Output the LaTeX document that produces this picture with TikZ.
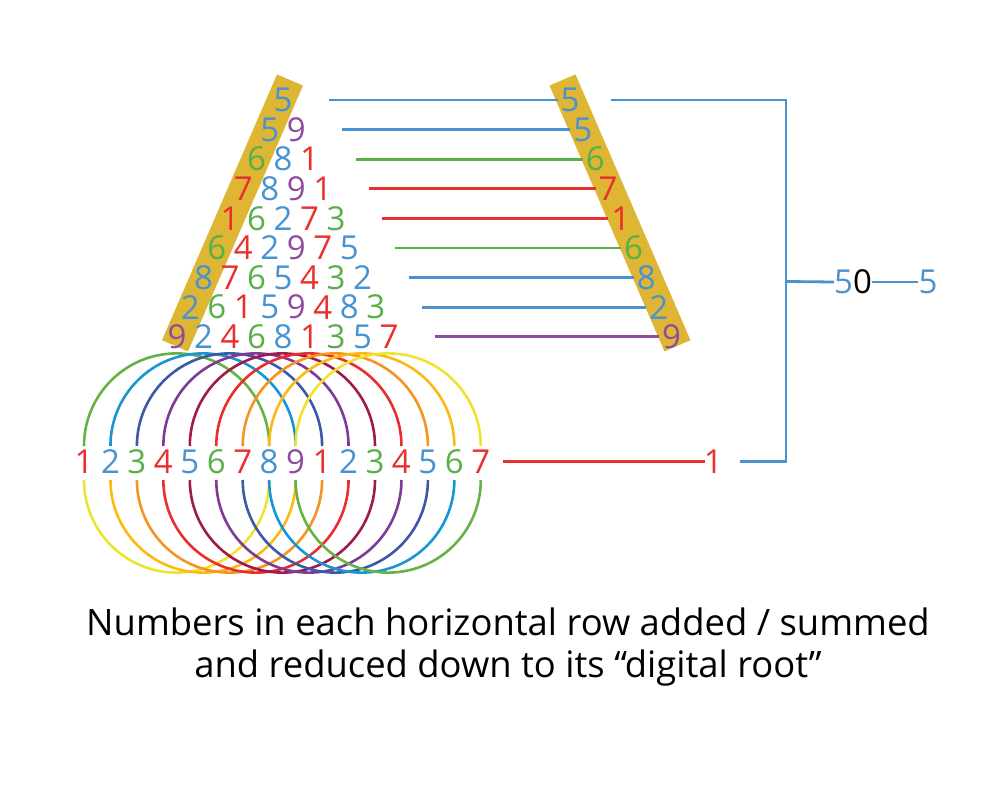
\documentclass[tikz,border=0pt]{standalone}
\usepackage{fontspec}
\setmainfont{Open Sans}
\definecolor{dred}{RGB}{232,49,46}
\definecolor{dblue}{RGB}{72,146,210}
\definecolor{dgreen}{RGB}{88,176,70}
\definecolor{dpurp}{RGB}{141,76,158}
\colorlet{c1}{dred}\colorlet{c2}{dblue}\colorlet{c3}{dgreen}
\colorlet{c4}{dred}\colorlet{c5}{dblue}\colorlet{c6}{dgreen}
\colorlet{c7}{dred}\colorlet{c8}{dblue}\colorlet{c9}{dpurp}
\definecolor{gold}{RGB}{222,182,52}
\definecolor{lg}{RGB}{101,178,70}
\definecolor{lc}{RGB}{24,150,212}
\definecolor{ldb}{RGB}{59,89,165}
\definecolor{lp}{RGB}{126,59,150}
\definecolor{lm}{RGB}{160,27,75}
\definecolor{lr}{RGB}{233,46,44}
\definecolor{lo}{RGB}{246,148,33}
\definecolor{la}{RGB}{253,185,19}
\definecolor{ly}{RGB}{238,228,48}
\begin{document}
\begin{tikzpicture}[x=1pt,y=-1pt,
  dig/.style={inner sep=0pt,font=\fontsize{33}{36}\selectfont},
  ringline/.style={line width=2.6pt},
  rowline/.style={line width=2.8pt},
  brline/.style={line width=2.8pt,dblue},
  captext/.style={inner sep=0pt,anchor=base,font=\fontsize{36.4}{40}\selectfont}]
\useasboundingbox (0,0) rectangle (1002,786);
% gold bars
\fill[gold] (277,74.4) -- (303,85.6) -- (188,351.4) -- (162,340.2) -- cycle;
\fill[gold] (575.5,74.4) -- (549.5,85.6) -- (664.5,351.4) -- (690.5,340.2) -- cycle;
% rings
\foreach \c [count=\k from 0] in {lg,lc,ldb,lp,lm,lr,lo,la,ly}
  \draw[ringline,\c] ({84+26.45*\k},446) arc[start angle=180,end angle=0,radius=92.6pt];
\foreach \c [count=\k from 0] in {ly,la,lo,lr,lm,lp,ldb,lc,lg}
  \draw[ringline,\c] ({84+26.45*\k},480) arc[start angle=180,end angle=360,radius=92.6pt];
% triangle
\foreach \row [count=\i from 0] in {{5},{5,9},{6,8,1},{7,8,9,1},{1,6,2,7,3},{6,4,2,9,7,5},{8,7,6,5,4,3,2},{2,6,1,5,9,4,8,3},{9,2,4,6,8,1,3,5,7}}{
  \foreach \d [count=\j from 0] in \row
    \node[dig,text=c\d] (T\i-\j) at ({283-13.25*\i+26.5*\j},{100+29.6*\i}) {\d};
}
% right bar digits and row lines
\foreach \d [count=\i from 0] in {5,5,6,7,1,6,8,2,9}{
  \node[dig,text=c\d] (R\i) at ({570+12.7*\i},{100+29.6*\i}) {\d};
  \coordinate (hs\i) at ({283+13.25*\i+46},{100+29.6*\i});
  \draw[rowline,c\d] (hs\i) -- ([xshift=-12.5pt]R\i.center);
}
% bottom row
\foreach \d [count=\k from 0] in {1,2,3,4,5,6,7,8,9,1,2,3,4,5,6,7}
  \node[dig,text=c\d] (B\k) at ({84+26.45*\k},461.7) {\d};
\node[dig,text=dred] (one) at (713.3,461.7) {1};
\draw[rowline,dred] ([xshift=22pt]B15.center) -- ([xshift=-8pt]one.center);
% bracket
\coordinate (brx) at (786,281.5);
\coordinate (brtop) at ([xshift=41pt]R0.center);
\coordinate (brbot) at ([xshift=27pt]one.center);
\draw[brline] (brtop) -| (brx) |- (brbot);
\node[dig] (fifty) at (853,282) {\textcolor{dblue}{5}\textcolor{black}{0}};
\node[dig,text=dblue] (five) at (928,282) {5};
\draw[brline] (brx) -- (fifty.west);
\draw[brline] (fifty.east) -- (five.west);
% caption
\node[captext] (cap1) at (508,635) {Numbers in each horizontal row added / summed};
\node[captext] (cap2) at (508,677) {and reduced down to its “digital root”};
\end{tikzpicture}
\end{document}
